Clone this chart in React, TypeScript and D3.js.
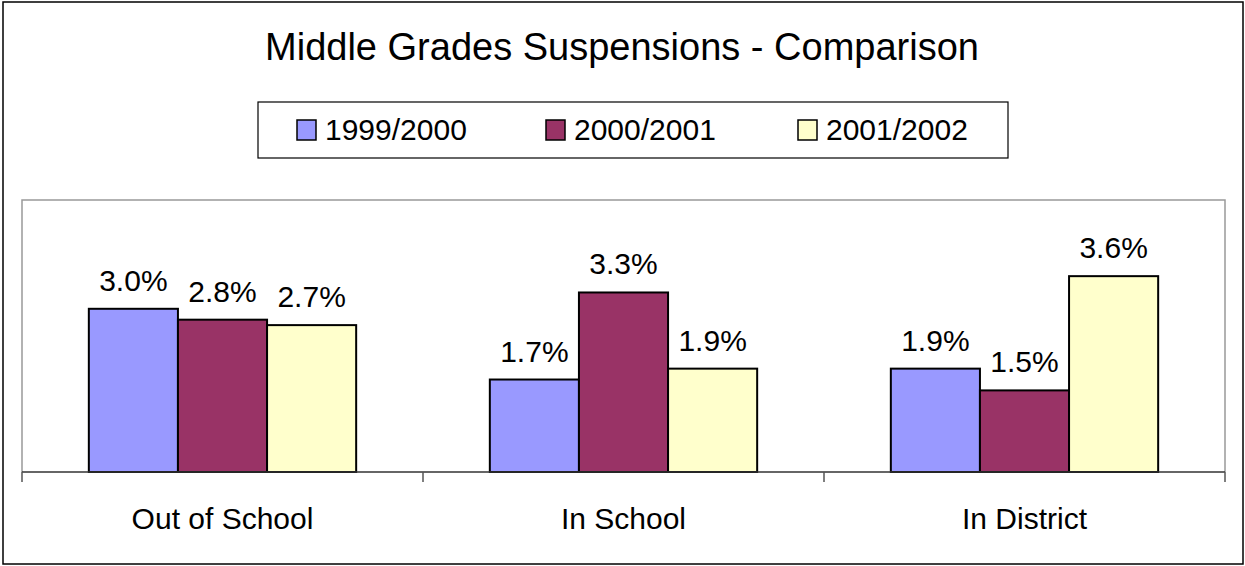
import React from 'react';
import * as d3 from 'd3';

const categories = ['Out of School', 'In School', 'In District'];
const seriesNames = ['1999/2000', '2000/2001', '2001/2002'];
const values1999 = [3.0, 1.7, 1.9];
const values2000 = [2.8, 3.3, 1.5];
const values2001 = [2.7, 1.9, 3.6];
const colors = ['#9999FF', '#993366', '#FFFFCC'];

const W = 1245;
const H = 566;
const plot = { left: 22, right: 1225, top: 200, bottom: 472 };
const font = 'Arial, "Liberation Sans", Helvetica, sans-serif';

const App = () => {
  const series = [values1999, values2000, values2001];

  const x0 = d3.scaleBand<string>()
    .domain(categories)
    .range([plot.left, plot.right])
    .padding(0);

  const step = x0.bandwidth();
  const barW = step / 4.5;
  const groupOffset = (step - barW * 3) / 2;

  const x1 = d3.scaleBand<string>()
    .domain(seriesNames)
    .range([groupOffset, groupOffset + barW * 3])
    .padding(0);

  const y = d3.scaleLinear().domain([0, 5]).range([plot.bottom, plot.top]);

  const ticks = [...categories.map(c => x0(c) as number), plot.right];

  const legendX = [297, 546, 798];

  return (
    <svg width={W} height={H} style={{ position: 'absolute', left: 0, top: 0, background: '#fff' }}
      fontFamily={font}>
      <rect x={3} y={2} width={1240} height={562} fill="#fff" stroke="#000" strokeWidth={1.5} />

      <text x={622} y={60} textAnchor="middle" fontSize={38} fill="#000">
        Middle Grades Suspensions - Comparison
      </text>

      {/* legend */}
      <rect x={258} y={102} width={750} height={56} fill="#fff" stroke="#000" strokeWidth={1.2} />
      {seriesNames.map((s, i) => (
        <g key={s}>
          <rect x={legendX[i]} y={120} width={19} height={20} fill={colors[i]} stroke="#000" strokeWidth={1.5} />
          <text x={legendX[i] + 28} y={140} fontSize={30} fill="#000">{s}</text>
        </g>
      ))}

      {/* plot area frame */}
      <path d={`M${plot.left},${plot.bottom}V${plot.top}H${plot.right}V${plot.bottom}`}
        fill="none" stroke="#999" strokeWidth={1.5} />

      {categories.map((c, ci) => (
        <g key={c} transform={`translate(${x0(c)},0)`}>
          {seriesNames.map((s, si) => {
            const v = series[si][ci];
            const bx = x1(s) as number;
            return (
              <g key={s}>
                <rect x={bx} y={y(v)} width={barW} height={plot.bottom - y(v)}
                  fill={colors[si]} stroke="#000" strokeWidth={2} />
                <text x={bx + barW / 2} y={y(v) - 18} textAnchor="middle" fontSize={30} fill="#000">
                  {v.toFixed(1)}%
                </text>
              </g>
            );
          })}
          <text x={step / 2} y={529} textAnchor="middle" fontSize={30} fill="#000">{c}</text>
        </g>
      ))}

      {/* category axis */}
      <line x1={plot.left} x2={plot.right} y1={plot.bottom} y2={plot.bottom} stroke="#333" strokeWidth={1.5} />
      {ticks.map((t, i) => (
        <line key={i} x1={t} x2={t} y1={plot.bottom} y2={plot.bottom + 10} stroke="#555" strokeWidth={1.5} />
      ))}
    </svg>
  );
};

export default App;
